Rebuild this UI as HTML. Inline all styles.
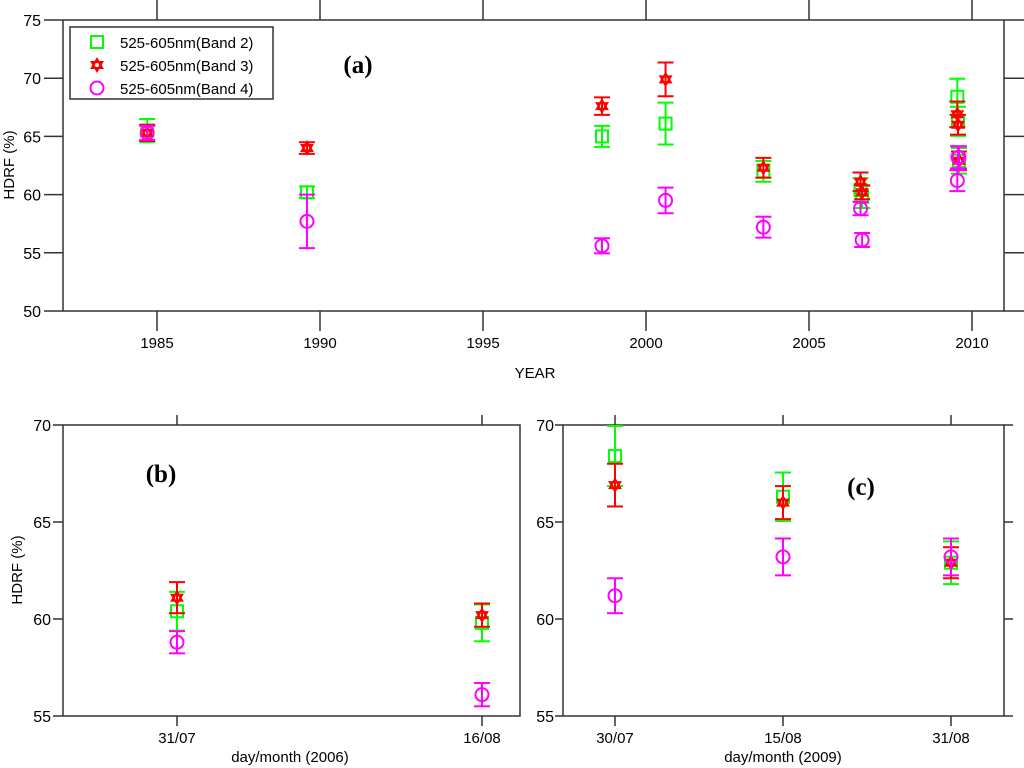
<!DOCTYPE html>
<html><head><meta charset="utf-8"><style>
body{margin:0;background:#fff;width:1024px;height:768px;overflow:hidden}
svg{display:block;font-family:"Liberation Sans",Arial,sans-serif}
</style></head><body>
<svg id="chart" width="1024" height="768" viewBox="0 0 1024 768" xmlns="http://www.w3.org/2000/svg"></svg>
<script>
// ---- Panel (a) data: decimal years ----
const aYears = [1984.7, 1989.6, 1998.65, 2000.6, 2003.6, 2006.58, 2006.63, 2009.55, 2009.57, 2009.6];
const aBand2 = [65.5, 60.2, 65.0, 66.1, 62.0, 60.4, 59.8, 68.4, 66.3, 62.9];
const aBand2Err = [1.0, 0.5, 0.9, 1.8, 0.9, 1.0, 0.95, 1.55, 1.25, 1.1];
const aBand3 = [65.3, 64.0, 67.6, 69.9, 62.3, 61.1, 60.2, 66.9, 66.0, 62.9];
const aBand3Err = [0.7, 0.5, 0.75, 1.45, 0.85, 0.8, 0.6, 1.1, 0.85, 0.8];
const aBand4 = [65.3, 57.7, 55.6, 59.5, 57.2, 58.8, 56.1, 61.2, 63.2, 63.2];
const aBand4Err = [0.6, 2.3, 0.65, 1.1, 0.9, 0.57, 0.6, 0.9, 0.95, 0.95];
const aXTicks = [1985, 1990, 1995, 2000, 2005, 2010];
const aYTicks = [50, 55, 60, 65, 70, 75];
// ---- Panel (b) data: days after 31/07/2006 ----
const bDays = [0, 16];
const bDayLabels = ["31/07", "16/08"];
const bBand2 = [60.4, 59.8];
const bBand2Err = [1.0, 0.95];
const bBand3 = [61.1, 60.2];
const bBand3Err = [0.8, 0.6];
const bBand4 = [58.8, 56.1];
const bBand4Err = [0.57, 0.6];
// ---- Panel (c) data: days after 30/07/2009 ----
const cDays = [0, 16, 32];
const cDayLabels = ["30/07", "15/08", "31/08"];
const cBand2 = [68.4, 66.3, 62.9];
const cBand2Err = [1.55, 1.25, 1.1];
const cBand3 = [66.9, 66.0, 62.9];
const cBand3Err = [1.1, 0.85, 0.8];
const cBand4 = [61.2, 63.2, 63.2];
const cBand4Err = [0.9, 0.95, 0.95];
const bcYTicks = [55, 60, 65, 70];

const NS = "http://www.w3.org/2000/svg";
const svg = document.getElementById("chart");
function el(tag, attrs, parent, text) {
  const e = document.createElementNS(NS, tag);
  for (const k in attrs) e.setAttribute(k, attrs[k]);
  if (text !== undefined) e.textContent = text;
  (parent || svg).appendChild(e);
  return e;
}
function lin(d0, d1, r0, r1) { return v => r0 + (v - d0) * (r1 - r0) / (d1 - d0); }
const COLORS = { b2: "#00ff00", b3: "#ff0000", b4: "#ff00ff" };

function marker(g, kind, x, y) {
  let m;
  if (kind === "b2") {
    m = el("rect", { x: x - 6, y: y - 6, width: 12, height: 12, fill: "none", stroke: COLORS.b2, "stroke-width": 2 }, g);
  } else if (kind === "b3") {
    const r = 6, pts1 = [], pts2 = [];
    for (let i = 0; i < 3; i++) {
      const a1 = -Math.PI / 2 + i * 2 * Math.PI / 3, a2 = Math.PI / 2 + i * 2 * Math.PI / 3;
      pts1.push((x + r * Math.cos(a1)).toFixed(1) + "," + (y + r * Math.sin(a1)).toFixed(1));
      pts2.push((x + r * Math.cos(a2)).toFixed(1) + "," + (y + r * Math.sin(a2)).toFixed(1));
    }
    m = el("g", {}, g);
    el("polygon", { points: pts1.join(" "), fill: "none", stroke: COLORS.b3, "stroke-width": 2 }, m);
    el("polygon", { points: pts2.join(" "), fill: "none", stroke: COLORS.b3, "stroke-width": 2 }, m);
  } else {
    m = el("circle", { cx: x, cy: y, r: 6.5, fill: "none", stroke: COLORS.b4, "stroke-width": 2 }, g);
  }
  return m;
}
function errorSeries(g, kind, xs, ys, es, sx, sy, name) {
  const sg = el("g", {}, g);
  
  
  const c = COLORS[kind];
  for (let i = 0; i < xs.length; i++) {
    const x = sx(xs[i]), yt = sy(ys[i] + es[i]), yb = sy(ys[i] - es[i]);
    const p = el("g", {}, sg);
    
    
    el("line", { x1: x, y1: yt, x2: x, y2: yb, stroke: c, "stroke-width": 2 }, p);
    el("line", { x1: x - 8, y1: yt, x2: x + 8, y2: yt, stroke: c, "stroke-width": 2 }, p);
    el("line", { x1: x - 8, y1: yb, x2: x + 8, y2: yb, stroke: c, "stroke-width": 2 }, p);
    marker(p, kind, x, sy(ys[i]));
  }
}
function frame(g, L, T, R, B) {
  el("rect", { x: L, y: T, width: R - L, height: B - T, fill: "none", stroke: "#333", "stroke-width": 1.5 }, g);
}

// ===== Panel (a) =====
(function () {
  const L = 63, R = 1004, T = 20, B = 311;
  const sx = lin(1985, 2010, 157, 972), sy = lin(50, 75, B, T);
  const g = el("g", {});
  
  
  frame(g, L, T, R, B);
  aYTicks.forEach(v => {
    const y = sy(v);
    el("line", { x1: L - 19, y1: y, x2: L, y2: y, stroke: "#333", "stroke-width": 1.5 }, g);
    el("line", { x1: R, y1: y, x2: 1024, y2: y, stroke: "#333", "stroke-width": 1.5 }, g);
    const t = el("text", { x: L - 22, y: y + 6, "text-anchor": "end", "font-size": 16 }, g, String(v));
    
    
  });
  aXTicks.forEach(v => {
    const x = sx(v);
    el("line", { x1: x, y1: B, x2: x, y2: B + 20, stroke: "#333", "stroke-width": 1.5 }, g);
    el("line", { x1: x, y1: 0, x2: x, y2: T, stroke: "#333", "stroke-width": 1.5 }, g);
    const t = el("text", { x: x, y: 348, "text-anchor": "middle", "font-size": 15 }, g, String(v));
    
    
  });
  const xt = el("text", { x: 535, y: 378, "text-anchor": "middle", "font-size": 15 }, g, "YEAR");
  
  
  const yt = el("text", { x: 0, y: 0, "text-anchor": "middle", "font-size": 15, transform: "translate(14,165) rotate(-90)" }, g, "HDRF (%)");
  
  
  errorSeries(g, "b2", aYears, aBand2, aBand2Err, sx, sy, "a-band2-series");
  errorSeries(g, "b3", aYears, aBand3, aBand3Err, sx, sy, "a-band3-series");
  errorSeries(g, "b4", aYears, aBand4, aBand4Err, sx, sy, "a-band4-series");
  const lab = el("text", { x: 358, y: 73, "text-anchor": "middle", "font-size": 25, "font-weight": "bold", "font-family": "Liberation Serif, serif" }, g, "(a)");
  
  
  // legend
  const lg = el("g", {}, g);
  
  
  el("rect", { x: 70, y: 27, width: 203, height: 72, fill: "#fff", stroke: "#333", "stroke-width": 1.5 }, lg);
  const ents = [["b2", "525-605nm(Band 2)"], ["b3", "525-605nm(Band 3)"], ["b4", "525-605nm(Band 4)"]];
  ents.forEach((e, i) => {
    const y = 42 + i * 23;
    const eg = el("g", {}, lg);
    
    
    marker(eg, e[0], 97, y);
    el("text", { x: 120, y: y + 6, "font-size": 15 }, eg, e[1]);
  });
})();

// ===== Panel (b) =====
(function () {
  const L = 63, R = 520, T = 425, B = 716;
  const sx = lin(0, 16, 177, 482), sy = lin(55, 70, B, T);
  const g = el("g", {});
  
  
  frame(g, L, T, R, B);
  bcYTicks.forEach(v => {
    const y = sy(v);
    el("line", { x1: L - 10, y1: y, x2: L, y2: y, stroke: "#333", "stroke-width": 1.5 }, g);
    const t = el("text", { x: L - 12, y: y + 6, "text-anchor": "end", "font-size": 16 }, g, String(v));
    
    
  });
  bDays.forEach((d, i) => {
    const x = sx(d);
    el("line", { x1: x, y1: B, x2: x, y2: B + 10, stroke: "#333", "stroke-width": 1.5 }, g);
    el("line", { x1: x, y1: T - 10, x2: x, y2: T, stroke: "#333", "stroke-width": 1.5 }, g);
    const t = el("text", { x: x, y: 743, "text-anchor": "middle", "font-size": 15 }, g, bDayLabels[i]);
    
    
  });
  const xt = el("text", { x: 290, y: 762, "text-anchor": "middle", "font-size": 15 }, g, "day/month (2006)");
  
  
  const yt = el("text", { x: 0, y: 0, "text-anchor": "middle", "font-size": 15, transform: "translate(22,570) rotate(-90)" }, g, "HDRF (%)");
  
  
  errorSeries(g, "b2", bDays, bBand2, bBand2Err, sx, sy, "b-band2-series");
  errorSeries(g, "b3", bDays, bBand3, bBand3Err, sx, sy, "b-band3-series");
  errorSeries(g, "b4", bDays, bBand4, bBand4Err, sx, sy, "b-band4-series");
  const lab = el("text", { x: 161, y: 482, "text-anchor": "middle", "font-size": 25, "font-weight": "bold", "font-family": "Liberation Serif, serif" }, g, "(b)");
  
  
})();

// ===== Panel (c) =====
(function () {
  const L = 563, R = 1004, T = 425, B = 716;
  const sx = lin(0, 16, 615, 783), sy = lin(55, 70, B, T);
  const g = el("g", {});
  
  
  frame(g, L, T, R, B);
  bcYTicks.forEach(v => {
    const y = sy(v);
    el("line", { x1: L - 8, y1: y, x2: L, y2: y, stroke: "#333", "stroke-width": 1.5 }, g);
    el("line", { x1: R, y1: y, x2: R + 9, y2: y, stroke: "#333", "stroke-width": 1.5 }, g);
    const t = el("text", { x: L - 9, y: y + 6, "text-anchor": "end", "font-size": 16 }, g, String(v));
    
    
  });
  cDays.forEach((d, i) => {
    const x = sx(d);
    el("line", { x1: x, y1: B, x2: x, y2: B + 10, stroke: "#333", "stroke-width": 1.5 }, g);
    el("line", { x1: x, y1: T - 10, x2: x, y2: T, stroke: "#333", "stroke-width": 1.5 }, g);
    const t = el("text", { x: x, y: 743, "text-anchor": "middle", "font-size": 15 }, g, cDayLabels[i]);
    
    
  });
  const xt = el("text", { x: 783, y: 762, "text-anchor": "middle", "font-size": 15 }, g, "day/month (2009)");
  
  
  errorSeries(g, "b2", cDays, cBand2, cBand2Err, sx, sy, "c-band2-series");
  errorSeries(g, "b3", cDays, cBand3, cBand3Err, sx, sy, "c-band3-series");
  errorSeries(g, "b4", cDays, cBand4, cBand4Err, sx, sy, "c-band4-series");
  const lab = el("text", { x: 861, y: 495, "text-anchor": "middle", "font-size": 25, "font-weight": "bold", "font-family": "Liberation Serif, serif" }, g, "(c)");
  
  
})();
</script>
</body></html>
